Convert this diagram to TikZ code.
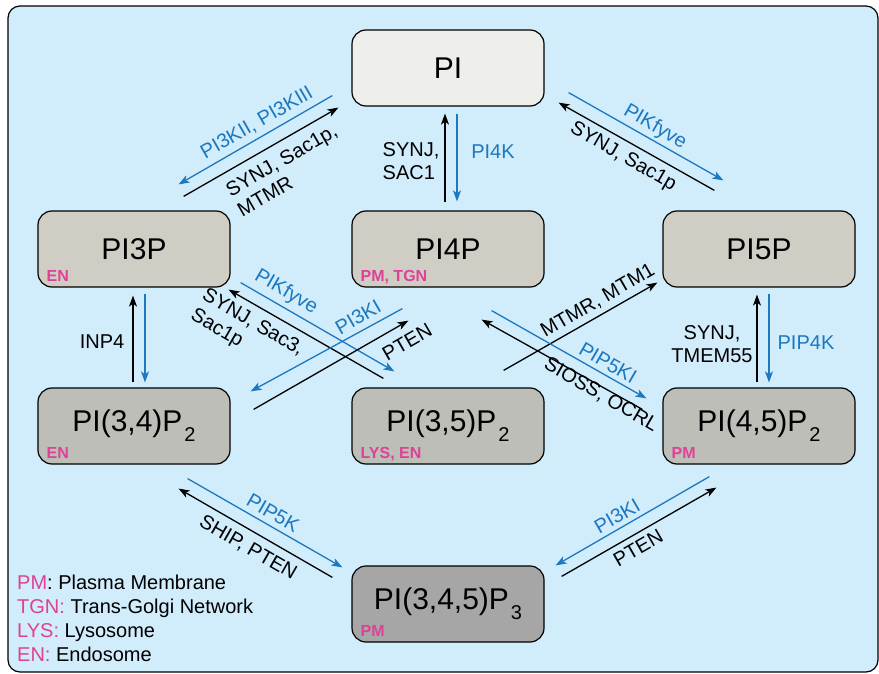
\documentclass[tikz,border=0pt]{standalone}
\usepackage{fontspec}
\setmainfont{Liberation Sans}
\usetikzlibrary{arrows.meta}
\definecolor{panelblue}{RGB}{209,236,250}
\definecolor{pifill}{RGB}{238,238,234}
\definecolor{monofill}{RGB}{208,206,196}
\definecolor{bisfill}{RGB}{190,190,184}
\definecolor{trisfill}{RGB}{166,166,166}
\definecolor{enzblue}{RGB}{28,120,192}
\definecolor{locpink}{RGB}{222,66,150}
\newcommand{\subidx}[1]{\kern2pt\raisebox{-0.33em}{\fontsize{20}{20}\selectfont #1}}

\begin{document}
\begin{tikzpicture}[
  x=1pt, y=-1pt,
  lipid/.style={draw, line width=1.2pt, rounded corners=14pt, minimum width=192pt,
    minimum height=76pt, inner sep=0pt, font=\fontsize{30}{32}\selectfont},
  enz/.style={font=\fontsize{20}{23}\selectfont, inner sep=0pt, align=left},
  blueenz/.style={enz, text=enzblue},
  loc/.style={text=locpink, font=\fontsize{16}{16}\selectfont\bfseries, inner sep=0pt, anchor=base west},
  arrow/.style={-{Stealth[length=11pt, width=8pt, inset=3pt]}, line width=1.3pt},
  bluearrow/.style={arrow, draw=enzblue}
]
\useasboundingbox (0,0) rectangle (879,674);

% Panel
\draw[fill=panelblue, line width=1.2pt, rounded corners=12pt] (8,6) rectangle (878,672);

% Lipids
\node[lipid, fill=pifill] (PI) at (448,68) {PI};
\node[lipid, fill=monofill] (PI3P) at (134,249) {PI3P};
\node[lipid, fill=monofill] (PI4P) at (448,249) {PI4P};
\node[lipid, fill=monofill] (PI5P) at (759,249) {PI5P};
\node[lipid, fill=bisfill] (P34) at (134,426) {PI(3,4)P\subidx{2}};
\node[lipid, fill=bisfill] (P35) at (448,426) {PI(3,5)P\subidx{2}};
\node[lipid, fill=bisfill] (P45) at (759,426) {PI(4,5)P\subidx{2}};
\node[lipid, fill=trisfill] (PIP3) at (448,604) {PI(3,4,5)P\subidx{3}};

% Locations
\node[loc] (loc3P) at ([shift={(9,-6)}]PI3P.south west) {EN};
\node[loc] (loc4P) at ([shift={(9,-6)}]PI4P.south west) {PM, TGN};
\node[loc] (loc34) at ([shift={(9,-6)}]P34.south west) {EN};
\node[loc] (loc35) at ([shift={(9,-6)}]P35.south west) {LYS, EN};
\node[loc] (loc45) at ([shift={(9,-6)}]P45.south west) {PM};
\node[loc] (locP3) at ([shift={(9,-6)}]PIP3.south west) {PM};

% PI <-> PI3P
\draw[bluearrow] ([shift={(-19,-11)}]PI.south west) -- ([shift={(-52,-26)}]PI3P.north east);
\draw[arrow] ([shift={(-47,-14)}]PI3P.north east) -- ([shift={(-13,1)}]PI.south west);
\node[blueenz, rotate=30] (e1) at (257,123) {PI3KII, PI3KIII};
\node[enz, rotate=30] (e2) at (287,170) {SYNJ, Sac1p,\\MTMR};

% PI <-> PI4P
\draw[arrow] ([shift={(-3,-8)}]PI4P.north) -- ([shift={(-3,7)}]PI.south);
\draw[bluearrow] ([shift={(9,7)}]PI.south) -- ([shift={(9,-9)}]PI4P.north);
\node[enz] (e3) at (411,161) {SYNJ,\\SAC1};
\node[blueenz] (e4) at (493,152) {PI4K};

% PI <-> PI5P
\draw[bluearrow] ([shift={(24,-14)}]PI.south east) -- ([shift={(61,-30)}]PI5P.north west);
\draw[arrow] ([shift={(52,-20)}]PI5P.north west) -- ([shift={(14,-4)}]PI.south east);
\node[blueenz, rotate=-30] (e5) at (655,127) {PIKfyve};
\node[enz, rotate=-30] (e6) at (623,157) {SYNJ, Sac1p};

% PI3P <-> PI(3,4)P2
\draw[arrow] ([shift={(-1,-5)}]P34.north) -- ([shift={(-1,8)}]PI3P.south);
\draw[bluearrow] ([shift={(11,6)}]PI3P.south) -- ([shift={(11,-5)}]P34.north);
\node[enz] (e7) at (102,342) {INP4};

% PI5P <-> PI(4,5)P2
\draw[arrow] ([shift={(-2,-5)}]P45.north) -- ([shift={(-2,7)}]PI5P.south);
\draw[bluearrow] ([shift={(10,6)}]PI5P.south) -- ([shift={(10,-5)}]P45.north);
\node[enz, align=center] (e8) at (712,344) {SYNJ,\\TMEM55};
\node[blueenz] (e9) at (806,343) {PIP4K};

% PI3P <-> PI(3,5)P2 and PI4P <-> PI(3,4)P2
\draw[bluearrow] ([shift={(10,-5)}]PI3P.south east) -- ([shift={(43,-16)}]P35.north west);
\draw[arrow] ([shift={(32,-9)}]P35.north west) -- ([shift={(-2,2)}]PI3P.south east);
\draw[bluearrow] ([shift={(51,21)}]PI4P.south west) -- ([shift={(20,4)}]P34.north east);
\draw[arrow] ([shift={(23,22)}]P34.north east) -- ([shift={(57,33)}]PI4P.south west);
\node[blueenz, rotate=-30] (e10) at (286,292) {PIKfyve};
\node[enz, rotate=-30] (e11) at (247,333) {SYNJ, Sac3,\\Sac1p};
\node[blueenz, rotate=30] (e12) at (358,317) {PI3KI};
\node[enz, rotate=30] (e13) at (407,342) {PTEN};

% PI(3,5)P2 -> PI5P and PI4P <-> PI(4,5)P2
\draw[arrow] ([shift={(-41,-17)}]P35.north east) -- ([shift={(-5,-5)}]PI5P.south west);
\draw[bluearrow] ([shift={(-53,23)}]PI4P.south east) -- ([shift={(-16,11)}]P45.north west);
\draw[arrow] ([shift={(-20,22)}]P45.north west) -- ([shift={(-63,32)}]PI4P.south east);
\node[enz, rotate=30] (e14) at (598,301) {MTMR, MTM1};
\node[blueenz, rotate=-30] (e15) at (608,363) {PIP5KI};
\node[enz, rotate=-30] (e16) at (601,395) {SIOSS, OCRL};

% PI(3,4)P2 <-> PIP3
\draw[bluearrow] ([shift={(-43,14)}]P34.south east) -- ([shift={(-9,2)}]PIP3.north west);
\draw[arrow] ([shift={(-19,12)}]PIP3.north west) -- ([shift={(-52,24)}]P34.south east);
\node[blueenz, rotate=-30] (e17) at (273,513) {PIP5K};
\node[enz, rotate=-30] (e18) at (248,548) {SHIP, PTEN};

% PI(4,5)P2 <-> PIP3
\draw[bluearrow] ([shift={(47,12)}]P45.south west) -- ([shift={(11,0)}]PIP3.north east);
\draw[arrow] ([shift={(17,11)}]PIP3.north east) -- ([shift={(54,23)}]P45.south west);
\node[blueenz, rotate=30] (e19) at (617,516) {PI3KI};
\node[enz, rotate=30] (e20) at (638,548) {PTEN};

% Legend
\node[enz, anchor=north west, font=\fontsize{20}{24}\selectfont] (legend) at (17,575)
  {\textcolor{locpink}{PM}: Plasma Membrane\\
   \textcolor{locpink}{TGN:} Trans-Golgi Network\\
   \textcolor{locpink}{LYS:} Lysosome\\
   \textcolor{locpink}{EN:} Endosome};

\end{tikzpicture}
\end{document}
